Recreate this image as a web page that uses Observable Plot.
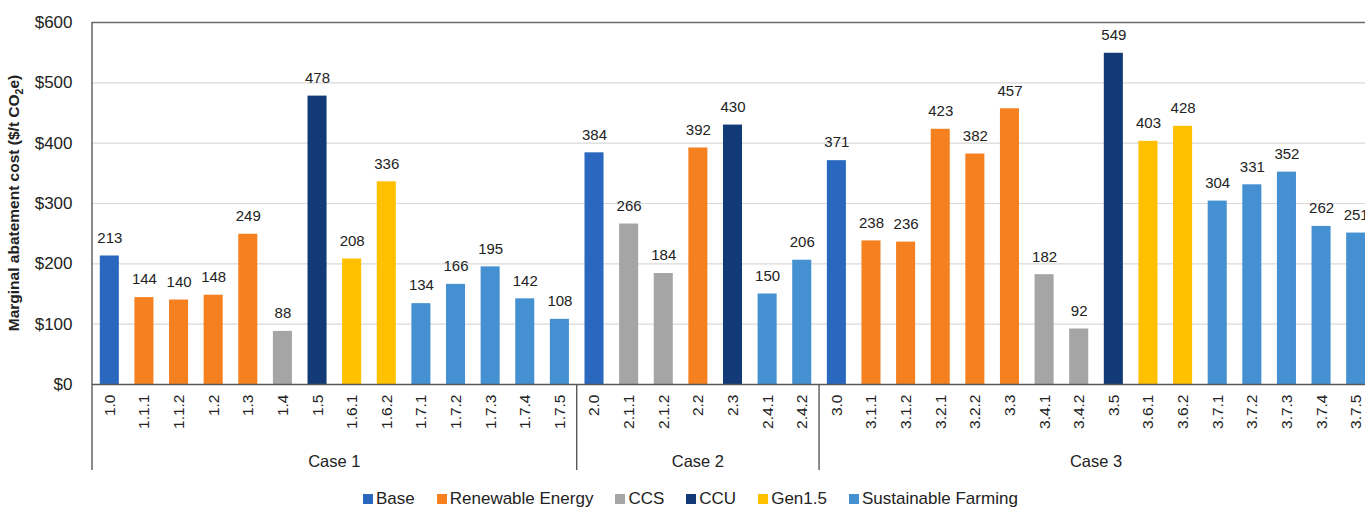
<!DOCTYPE html>
<html>
<head>
<meta charset="utf-8">
<script src="https://cdn.jsdelivr.net/npm/d3@7"></script>
<script src="https://cdn.jsdelivr.net/npm/@observablehq/plot@0.6"></script>
<style>
  html, body { margin: 0; padding: 0; background: #fff; overflow: hidden; }
  body { font-family: "Liberation Sans", Arial, sans-serif; }
  #legend { display: flex; align-items: center; height: 22px; padding-left: 363px; font-size: 17px; color: #222; white-space: nowrap; }
  #legend .item { display: flex; align-items: center; margin-right: 22px; }
  #legend .sw { width: 10px; height: 10px; margin-right: 3px; }
</style>
</head>
<body>
<div id="chart"></div>
<div id="legend"></div>
<script>
// Scenario identifiers in display order
const scenarios = [
  "1.0", "1.1.1", "1.1.2", "1.2", "1.3", "1.4", "1.5", "1.6.1", "1.6.2", "1.7.1", "1.7.2", "1.7.3", "1.7.4", "1.7.5",
  "2.0", "2.1.1", "2.1.2", "2.2", "2.3", "2.4.1", "2.4.2",
  "3.0", "3.1.1", "3.1.2", "3.2.1", "3.2.2", "3.3", "3.4.1", "3.4.2", "3.5", "3.6.1", "3.6.2", "3.7.1", "3.7.2", "3.7.3", "3.7.4", "3.7.5"
];

// Case each scenario belongs to
const cases = [
  "Case 1", "Case 1", "Case 1", "Case 1", "Case 1", "Case 1", "Case 1", "Case 1", "Case 1", "Case 1", "Case 1", "Case 1", "Case 1", "Case 1",
  "Case 2", "Case 2", "Case 2", "Case 2", "Case 2", "Case 2", "Case 2",
  "Case 3", "Case 3", "Case 3", "Case 3", "Case 3", "Case 3", "Case 3", "Case 3", "Case 3", "Case 3", "Case 3", "Case 3", "Case 3", "Case 3", "Case 3", "Case 3"
];

// Abatement technology for each scenario
const technologies = [
  "Base", "Renewable Energy", "Renewable Energy", "Renewable Energy", "Renewable Energy", "CCS", "CCU", "Gen1.5", "Gen1.5",
  "Sustainable Farming", "Sustainable Farming", "Sustainable Farming", "Sustainable Farming", "Sustainable Farming",
  "Base", "CCS", "CCS", "Renewable Energy", "CCU", "Sustainable Farming", "Sustainable Farming",
  "Base", "Renewable Energy", "Renewable Energy", "Renewable Energy", "Renewable Energy", "Renewable Energy", "CCS", "CCS", "CCU",
  "Gen1.5", "Gen1.5", "Sustainable Farming", "Sustainable Farming", "Sustainable Farming", "Sustainable Farming", "Sustainable Farming"
];

// Marginal abatement cost, $/t CO2e
const costs = [
  213, 144, 140, 148, 249, 88, 478, 208, 336, 134, 166, 195, 142, 108,
  384, 266, 184, 392, 430, 150, 206,
  371, 238, 236, 423, 382, 457, 182, 92, 549, 403, 428, 304, 331, 352, 262, 251
];

const caseNames = ["Case 1", "Case 2", "Case 3"];
const categoryNames = ["Base", "Renewable Energy", "CCS", "CCU", "Gen1.5", "Sustainable Farming"];
const categoryColors = ["#2968be", "#f5801f", "#a5a5a5", "#123a76", "#ffc000", "#4490d0"];
const yTicks = [0, 100, 200, 300, 400, 500, 600];

const rows = scenarios.map((s, i) => ({ scenario: s, caseName: cases[i], tech: technologies[i], cost: costs[i] }));

const font = "Liberation Sans, Arial, sans-serif";
const H = 488, MB = 104;

const chart = Plot.plot({
  width: 1365,
  height: H,
  marginLeft: 92,
  marginRight: -8,
  marginTop: 22,
  marginBottom: MB,
  style: { fontFamily: font, fontSize: "15px", color: "#222", background: "#fff", overflow: "visible" },
  x: { type: "band", domain: scenarios, paddingInner: 0.45, paddingOuter: 0.225, round: false, axis: null },
  y: { domain: [0, 600], axis: null },
  color: { domain: categoryNames, range: categoryColors },
  marks: [
    Plot.gridY(yTicks.slice(1, -1), { stroke: "#d9d9d9", strokeOpacity: 1, strokeWidth: 1.2 }),
    Plot.barY(rows, { x: "scenario", y: "cost", fill: "tech" }),
    Plot.text(rows, { x: "scenario", y: "cost", text: (d) => String(d.cost), dy: -18, fontSize: 15, fill: "#222" }),
    Plot.ruleY([600], { stroke: "#6b6b6b", strokeWidth: 1.6 }),
    Plot.ruleY([0], { stroke: "#595959", strokeWidth: 1.6 }),
    Plot.axisY(yTicks, { tickSize: 0, tickPadding: 20, tickFormat: (d) => "$" + d, fontSize: 17, label: null }),
    Plot.axisX({ tickSize: 0, tickRotate: -90, tickPadding: 10, fontSize: 15.5, label: null })
  ]
});

document.getElementById("chart").appendChild(chart);

// Case grouping: divider lines and case labels below the scenario ticks
const svg = d3.select(chart);
const xs = chart.scale("x");
const ys = chart.scale("y");
const step = (xs.apply(scenarios[scenarios.length - 1]) - xs.apply(scenarios[0])) / (scenarios.length - 1);
const gap = step * xs.paddingInner;
const yZero = ys.apply(0);
const yTop = ys.apply(600);
const yBottom = H - MB + 86;

const groups = caseNames.map((c) => {
  const first = scenarios[cases.indexOf(c)];
  const last = scenarios[cases.lastIndexOf(c)];
  return { name: c, x0: xs.apply(first) - gap / 2, x1: xs.apply(last) + step - gap / 2 };
});

const g = svg.append("g").attr("stroke", "#595959").attr("stroke-width", 1.4);
groups.forEach((grp, i) => {
  g.append("line")
    .attr("x1", grp.x0).attr("x2", grp.x0)
    .attr("y1", i === 0 ? yTop : yZero).attr("y2", yBottom);
});

svg.append("g")
  .attr("font-family", font).attr("font-size", 16.5).attr("fill", "#222").attr("text-anchor", "middle")
  .selectAll("text").data(groups).join("text")
  .attr("x", (d) => (d.x0 + d.x1) / 2)
  .attr("y", H - MB + 83)
  .text((d) => d.name);

// Y axis title with subscript
const title = svg.append("text")
  .attr("transform", `translate(19,${(yTop + yZero) / 2}) rotate(-90)`)
  .attr("text-anchor", "middle")
  .attr("font-family", font).attr("font-size", 15.5).attr("font-weight", "bold").attr("fill", "#222");
title.append("tspan").text("Marginal abatement cost ($/t CO");
title.append("tspan").attr("font-size", 10.5).attr("dy", 4).text("2");
title.append("tspan").attr("dy", -4).text("e)");

// Legend
const legend = d3.select("#legend");
categoryNames.forEach((name, i) => {
  const item = legend.append("div").attr("class", "item");
  item.append("div").attr("class", "sw").style("background", categoryColors[i]);
  item.append("span").text(name);
});
</script>
</body>
</html>
